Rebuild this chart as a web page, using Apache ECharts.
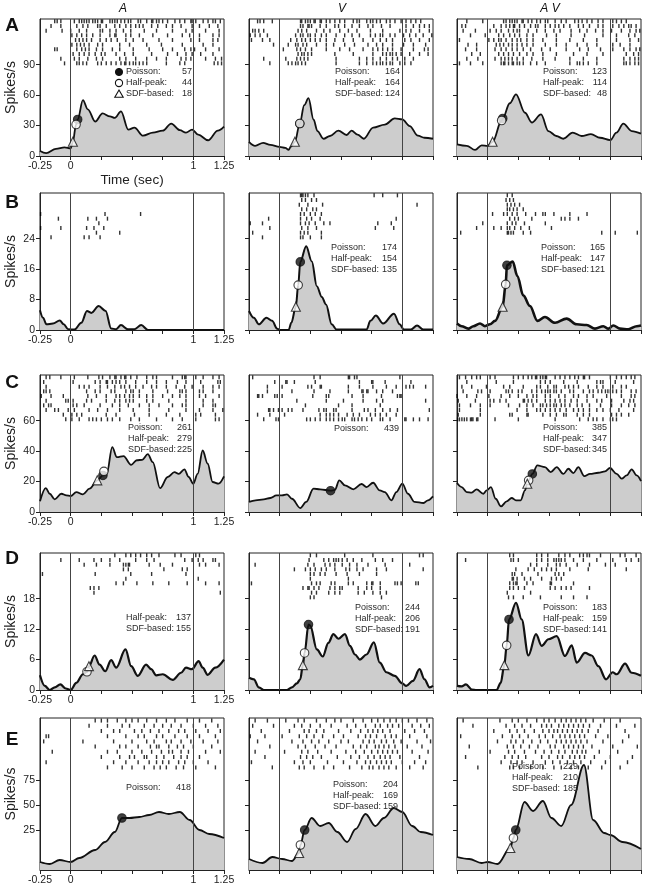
<!DOCTYPE html>
<html><head><meta charset="utf-8">
<script src="https://cdn.jsdelivr.net/npm/echarts@6/dist/echarts.min.js"></script>
<style>html,body{margin:0;padding:0;background:#fff}#c{width:647px;height:890px}</style>
</head><body><div id="c"></div>
<script>
// ---------- data ----------
const rowLetters = ['A', 'B', 'C', 'D', 'E'];
const colTitles = ['A', 'V', 'A V'];
const timeTicks = [-0.25, 0, 1, 1.25];
const yMin = [0, 0, 0, 0, -15];
const yMax = [135, 36, 90, 27, 137];
const yTickValues = [[0, 30, 60, 90], [0, 8, 16, 24], [0, 20, 40, 60], [0, 6, 12, 18], [25, 50, 75]];
const legendNames = ['Poisson:', 'Half-peak:', 'SDF-based:'];
// onset latencies (ms) [Poisson, Half-peak, SDF-based]
const onsetA = [[57, 44, 18], [164, 164, 124], [123, 114, 48]];
const onsetB = [[null, null, null], [174, 154, 135], [165, 147, 121]];
const onsetC = [[261, 279, 225], [439, null, null], [385, 347, 345]];
const onsetD = [[null, 137, 155], [244, 206, 191], [183, 159, 141]];
const onsetE = [[418, null, null], [204, 169, 159], [229, 210, 185]];
// onset markers [time (s), rate]
const poissonPts = [[[0.057, 36], [0.164, 32], [0.123, 37]], [null, [0.168, 17.9], [0.157, 17]], [[0.263, 24], [0.415, 14], [0.364, 25]], [null, [0.235, 12.9], [0.174, 13.9]], [[0.418, 37], [0.204, 25], [0.229, 25]]];
const halfPts = [[[0.044, 31], [0.164, 32], [0.114, 35]], [null, [0.151, 11.8], [0.147, 12]], [[0.271, 26.7], null, [0.334, 20.8]], [[0.133, 3.6], [0.203, 7.3], [0.155, 8.8]], [null, [0.169, 10], [0.21, 17]]];
const sdfPts = [[[0.018, 14], [0.124, 14], [0.04, 14]], [null, [0.132, 6.1], [0.122, 6.1]], [[0.217, 20.8], null, [0.323, 18.6]], [[0.149, 4.7], [0.189, 4.9], [0.136, 4.9]], [null, [0.159, 2], [0.185, 7]]];

// spike density functions [time (s), spikes/s]
const sdfA1 = [[-0.25,5],[-0.2,2.8],[-0.12,7],[-0.05,8.5],[0,7.5],[0.018,14],[0.044,31],[0.057,36],[0.1,55],[0.14,46],[0.2,34],[0.26,42],[0.32,39],[0.36,37.5],[0.41,44],[0.47,26],[0.52,28],[0.59,20],[0.67,23],[0.75,25],[0.82,32],[0.89,25.5],[0.94,23],[0.99,26],[1.04,21],[1.12,15.5],[1.2,25],[1.25,29]];
const sdfA2 = [[-0.25,14],[-0.2,10],[-0.135,13],[-0.076,11],[0,9],[0.046,8],[0.073,6],[0.09,9],[0.124,14],[0.164,32],[0.2,50],[0.235,57],[0.276,36],[0.308,24.6],[0.357,17],[0.41,19.7],[0.478,25],[0.546,20.7],[0.586,25],[0.635,21],[0.686,17],[0.762,28],[0.857,31],[0.938,37],[1.0,36],[1.06,29.5],[1.127,20],[1.18,18],[1.25,17]];
const sdfA3 = [[-0.25,11.5],[-0.17,10],[-0.103,6],[-0.049,10.5],[0,10],[0.04,14],[0.114,35],[0.123,37],[0.18,52],[0.231,60.7],[0.304,42.6],[0.36,33],[0.435,41],[0.495,24.6],[0.56,19.7],[0.617,17],[0.693,23],[0.766,19.7],[0.842,21.6],[0.916,18],[1.0,15.7],[1.05,23],[1.106,32],[1.174,24.6],[1.25,22]];
const sdfB1 = [[-0.25,5.2],[-0.225,3.2],[-0.198,1.5],[-0.144,1.7],[-0.089,2.5],[-0.057,1.5],[-0.02,0.2],[0.03,0.1],[0.087,1.9],[0.133,5],[0.168,4.5],[0.228,6.3],[0.285,5],[0.33,0.4],[0.37,0.2],[0.41,1.3],[0.466,0.2],[0.52,0.2],[0.575,1.3],[0.63,0],[1.25,0]];
const sdfB2 = [[-0.25,5],[-0.21,3.2],[-0.17,1.5],[-0.108,3.2],[-0.062,2.4],[-0.02,0.35],[0,0],[0.073,0],[0.095,1.9],[0.132,6.1],[0.151,11.8],[0.168,17.9],[0.216,22],[0.262,18],[0.303,11.5],[0.343,8.7],[0.378,6.7],[0.424,1.5],[0.465,0.1],[0.708,0.1],[0.74,2.4],[0.784,3.8],[0.843,1.7],[0.932,4.3],[0.978,1.5],[1.013,0.1],[1.07,0.1],[1.12,1.2],[1.17,0.1],[1.25,0.1]];
const sdfB3 = [[-0.25,1.7],[-0.212,1],[-0.158,0.35],[-0.117,1],[-0.0625,1.7],[-0.022,1],[0.019,1.5],[0.06,2.4],[0.122,6.1],[0.147,12],[0.157,17],[0.204,18],[0.242,14.2],[0.29,9.1],[0.345,6.3],[0.405,2.4],[0.467,3.4],[0.549,1.9],[0.644,3],[0.726,1.5],[0.807,1.3],[0.875,0.35],[0.943,1],[0.984,0.35],[1.024,1.2],[1.079,0.35],[1.147,0.2],[1.215,1],[1.25,1.2]];
const sdfC1 = [[-0.25,7],[-0.203,15.7],[-0.171,12],[-0.13,8.3],[-0.076,12],[-0.035,10.9],[0,10.5],[0.046,13.1],[0.1,11.6],[0.154,15.3],[0.217,20.8],[0.263,24],[0.295,25.5],[0.339,42.6],[0.377,36],[0.431,36.7],[0.493,31],[0.539,34],[0.583,34.3],[0.629,38],[0.669,32.8],[0.729,15.7],[0.791,23],[0.846,26.2],[0.881,25],[0.927,28],[0.962,23],[1.0,18.6],[1.035,25],[1.076,40.4],[1.117,31.7],[1.157,19.7],[1.206,18.6],[1.25,23.4]];
const sdfC2 = [[-0.25,6.6],[-0.197,7.7],[-0.13,8.3],[-0.076,9.2],[-0.027,10.9],[0.019,10.9],[0.06,11.6],[0.1,8.7],[0.168,2.6],[0.216,6.6],[0.276,15.3],[0.33,14.9],[0.415,14],[0.45,14.5],[0.486,20.8],[0.532,17.5],[0.6,14.9],[0.668,18.4],[0.708,16.4],[0.762,19.2],[0.816,14.2],[0.857,13.1],[0.911,7.7],[0.951,13.1],[1.0,18.6],[1.046,12],[1.1,6.6],[1.173,5.9],[1.208,7.7],[1.25,10.3]];
const sdfC3 = [[-0.25,19],[-0.212,16.4],[-0.171,13.1],[-0.13,12.7],[-0.09,14.9],[-0.035,12],[-0.008,14.2],[0.027,16.4],[0.065,8.7],[0.109,3.7],[0.155,7],[0.196,9.2],[0.231,7.7],[0.269,7.7],[0.304,14.2],[0.323,18.6],[0.334,20.8],[0.364,25],[0.405,30.6],[0.467,29.5],[0.514,26.2],[0.563,29.5],[0.617,25],[0.658,28.4],[0.698,25.6],[0.739,29.5],[0.788,23.6],[0.834,25],[0.902,25.8],[0.957,26.7],[0.997,28.9],[1.052,25],[1.092,21.9],[1.133,24],[1.174,28],[1.215,24],[1.25,20.3]];
const sdfD1 = [[-0.25,2.9],[-0.211,0.8],[-0.17,0],[-0.13,0.5],[-0.084,1.1],[-0.04,0.3],[0,0],[0.046,1.4],[0.1,3.1],[0.133,3.6],[0.149,4.7],[0.195,6.8],[0.236,5],[0.282,3.7],[0.33,5.9],[0.371,4.4],[0.447,8],[0.493,4.7],[0.547,2.8],[0.615,5],[0.656,4.1],[0.697,2.9],[0.751,3.1],[0.832,2],[0.9,3.4],[0.94,4.4],[0.989,4.1],[1.043,5.7],[1.076,4.4],[1.117,3],[1.179,4.4],[1.25,6]];
const sdfD2 = [[-0.25,2.4],[-0.21,2.1],[-0.17,0.5],[-0.13,0],[0.06,0],[0.1,0.5],[0.14,1.3],[0.168,2.1],[0.189,4.9],[0.203,7.3],[0.235,12.9],[0.249,12.7],[0.303,8],[0.351,6.6],[0.397,9.3],[0.438,11],[0.478,10.1],[0.532,11],[0.573,8.7],[0.614,7],[0.654,6],[0.708,7],[0.768,9.4],[0.816,5.4],[0.87,3.5],[0.938,2.8],[1.0,1.3],[1.032,0.8],[1.086,1.8],[1.14,4.1],[1.181,2.1],[1.222,0.5],[1.25,0.8]];
const sdfD3 = [[-0.25,0.8],[-0.212,0.7],[-0.177,1.1],[-0.13,0.1],[-0.09,0],[0.073,0],[0.106,1.4],[0.136,4.9],[0.155,8.8],[0.174,13.9],[0.231,17.2],[0.277,13.9],[0.332,6.8],[0.394,11],[0.44,8.7],[0.495,10],[0.563,10.6],[0.63,6.7],[0.685,8.8],[0.726,5.4],[0.794,7.3],[0.848,6.8],[0.902,4.7],[0.965,2.1],[1.019,3.5],[1.052,3.1],[1.12,5.2],[1.174,3.4],[1.25,2.8]];
const sdfE1 = [[-0.25,-7],[-0.17,-9],[-0.09,-5],[0,-7],[0.07,-3],[0.2,5],[0.28,13],[0.36,23],[0.418,37],[0.48,37],[0.56,38],[0.64,40],[0.72,43],[0.8,41],[0.89,43],[0.97,35],[1.05,25],[1.13,21],[1.25,17]];
const sdfE2 = [[-0.25,-4],[-0.14,-8],[-0.06,-2],[0.02,-4],[0.1,-6],[0.159,2],[0.169,10],[0.204,25],[0.26,37],[0.33,29],[0.4,32],[0.47,23],[0.55,13],[0.62,26],[0.7,41],[0.78,29],[0.85,37],[0.93,47],[1.0,43],[1.08,29],[1.15,23],[1.25,20]];
const sdfE3 = [[-0.25,-2],[-0.15,-4],[-0.05,-8],[0,-7],[0.08,-9],[0.185,7],[0.21,17],[0.229,25],[0.3,53],[0.37,44],[0.45,54],[0.52,37],[0.6,29],[0.68,50],[0.785,90],[0.86,35],[0.95,22],[1.0,20],[1.1,13],[1.25,6]];

// spike rasters: one array of spike times (s) per trial
const rasterA1 = [
 [-0.13,-0.11,-0.08,0.03,0.07,0.09,0.11,0.13,0.15,0.18,0.20,0.22,0.25,0.26,0.32,0.34,0.36,0.38,0.41,0.44,0.47,0.49,0.55,0.57,0.62,0.66,0.67,0.70,0.72,0.75,0.79,0.85,0.89,0.93,0.98,0.99,1.02,1.08,1.12,1.16,1.18,1.22],
 [-0.16,-0.08,0.05,0.10,0.14,0.22,0.24,0.29,0.36,0.40,0.45,0.49,0.53,0.56,0.59,0.66,0.71,0.78,0.83,0.90,0.99,1.05,1.13,1.20],
 [-0.20,-0.07,0.00,0.07,0.13,0.24,0.26,0.32,0.37,0.43,0.49,0.60,0.70,0.83,0.94,0.99,1.10,1.21],
 [0.01,0.05,0.09,0.13,0.18,0.24,0.32,0.36,0.37,0.45,0.49,0.56,0.67,0.79,0.91,0.97,1.05,1.16,1.21],
 [0.04,0.07,0.10,0.13,0.17,0.24,0.29,0.33,0.38,0.45,0.51,0.59,0.72,0.83,0.98,1.05,1.16,1.20],
 [0.01,0.05,0.08,0.11,0.15,0.22,0.26,0.40,0.48,0.62,0.74,0.91,1.08,1.16],
 [-0.13,-0.11,0.05,0.09,0.12,0.15,0.21,0.26,0.34,0.40,0.51,0.64,0.75,0.83,0.93,0.98,1.01,1.10,1.21],
 [0.02,0.07,0.11,0.15,0.20,0.25,0.28,0.37,0.44,0.51,0.66,0.79,0.87,0.94,0.99,1.06,1.16],
 [-0.08,0.03,0.07,0.14,0.21,0.26,0.40,0.45,0.53,0.62,0.70,0.78,0.90,0.94,0.98,1.10,1.18,1.23],
 [-0.05,0.05,0.07,0.10,0.13,0.22,0.25,0.29,0.33,0.37,0.41,0.44,0.45,0.48,0.51,0.53,0.56,0.59,0.62,0.78,0.89,0.93,1.17,1.20,1.23]
];
const rasterA2 = [
 [-0.18,-0.16,-0.13,-0.06,0.17,0.18,0.21,0.23,0.25,0.28,0.29,0.33,0.34,0.38,0.41,0.45,0.49,0.53,0.60,0.63,0.65,0.71,0.74,0.76,0.79,0.82,0.87,0.90,0.94,0.99,1.03,1.07,1.11,1.15],
 [0.17,0.19,0.23,0.24,0.26,0.33,0.38,0.45,0.48,0.53,0.59,0.65,0.72,0.76,0.83,0.90,1.03,1.09,1.14,1.18,1.22],
 [-0.22,-0.20,-0.17,-0.13,0.15,0.18,0.22,0.30,0.36,0.41,0.49,0.56,0.63,0.74,0.84,0.98,1.03,1.07,1.14,1.22],
 [-0.24,-0.20,-0.16,-0.10,0.13,0.17,0.19,0.23,0.25,0.29,0.34,0.38,0.46,0.53,0.59,0.65,0.74,0.78,0.82,0.84,0.90,0.94,1.01,1.06,1.11,1.17,1.24],
 [-0.23,-0.14,-0.08,0.09,0.14,0.18,0.21,0.25,0.29,0.33,0.38,0.45,0.52,0.60,0.68,0.76,0.82,0.87,0.92,1.02,1.07,1.14,1.22],
 [-0.05,0.07,0.13,0.15,0.19,0.22,0.30,0.38,0.44,0.53,0.61,0.72,0.79,0.84,0.92,1.01,1.09,1.19],
 [0.03,0.14,0.17,0.21,0.26,0.38,0.49,0.57,0.68,0.76,0.80,0.84,0.88,0.92,0.99,1.09,1.18,1.21],
 [0.15,0.18,0.20,0.23,0.26,0.45,0.60,0.76,0.84,0.87,0.90,0.92,0.95,0.99,1.06,1.14,1.21],
 [-0.13,0.05,0.14,0.17,0.20,0.23,0.46,0.65,0.71,0.76,0.82,0.87,0.92,0.96,1.02,1.09],
 [-0.08,0.07,0.10,0.13,0.15,0.18,0.21,0.46,0.65,0.71,0.76,0.79,0.82,0.84,0.87,0.90,0.92,0.98,1.02,1.07]
];
const rasterA3 = [
 [-0.17,-0.04,0.13,0.15,0.18,0.20,0.22,0.24,0.28,0.29,0.33,0.36,0.40,0.43,0.47,0.49,0.55,0.60,0.64,0.71,0.74,0.77,0.81,0.85,0.90,0.94,1.02,1.05,1.09,1.13],
 [-0.21,-0.18,0.05,0.11,0.15,0.18,0.21,0.22,0.26,0.30,0.35,0.39,0.41,0.47,0.51,0.55,0.58,0.62,0.67,0.74,0.78,0.83,0.90,0.94,1.02,1.07,1.11,1.15,1.17,1.21],
 [-0.20,-0.10,0.02,0.07,0.11,0.17,0.21,0.24,0.26,0.33,0.40,0.47,0.54,0.59,0.68,0.75,0.81,0.88,0.94,1.01,1.09,1.16,1.21,1.24],
 [-0.14,-0.02,0.09,0.13,0.18,0.22,0.26,0.32,0.37,0.48,0.56,0.68,0.79,0.94,1.05,1.15,1.20],
 [-0.23,0.01,0.05,0.09,0.11,0.15,0.20,0.24,0.27,0.32,0.37,0.45,0.56,0.67,0.78,0.89,1.05,1.16,1.23],
 [-0.16,-0.09,0.07,0.10,0.13,0.17,0.20,0.24,0.28,0.32,0.37,0.47,0.56,0.64,0.73,0.81,0.89,1.02,1.08,1.16],
 [-0.18,-0.09,0.06,0.11,0.15,0.20,0.24,0.29,0.35,0.44,0.51,0.64,0.75,0.82,0.92,1.02,1.11,1.16,1.21,1.24],
 [-0.13,-0.06,0.09,0.13,0.17,0.21,0.26,0.32,0.37,0.45,0.56,0.70,0.81,0.94,1.13,1.19,1.23],
 [-0.17,-0.08,0.06,0.11,0.14,0.17,0.20,0.24,0.29,0.36,0.45,0.55,0.67,0.78,0.89,1.11,1.16,1.20,1.23],
 [-0.23,-0.14,-0.04,0.11,0.13,0.14,0.17,0.20,0.21,0.24,0.26,0.29,0.35,0.40,0.47,0.67,0.73,0.75,0.78,0.82,0.89,1.11,1.13,1.16,1.20,1.23]
];
const rasterB1 = [[], [], [], [], [-0.245,0.28,0.57], [-0.10,0.14,0.21,0.30], [0.23], [-0.245,-0.08,0.13,0.19,0.27], [0.21,0.40], [-0.16,0.11,0.15,0.24]];
const rasterB2 = [
 [0.17,0.18,0.19,0.21,0.23,0.28,0.77,0.84,0.96],
 [0.18,0.21,0.26,0.30],
 [0.16,0.23,0.35,1.12],
 [0.18,0.22,0.27,0.30],
 [0.17,0.20,0.25,0.29,0.34],
 [-0.09,0.17,0.22,0.26,0.33,0.95],
 [-0.24,-0.14,0.17,0.21,0.24,0.29,0.36,0.41,0.80,0.91],
 [-0.08,0.18,0.23,0.30,0.78,0.93],
 [-0.22,0.17,0.20,0.23,0.34],
 [-0.14,0.17,0.19,0.25,0.34]
];
const rasterB3 = [
 [0.16,0.20],
 [0.15,0.18,0.21],
 [0.16,0.19,0.22,0.26],
 [0.16,0.18,0.21,0.24,0.29],
 [0.04,0.13,0.16,0.20,0.24,0.31,0.39,0.45,0.47,0.54,0.67,0.81],
 [0.18,0.22,0.25,0.36,0.60,0.63,0.67,0.74],
 [-0.04,0.16,0.20,0.23,0.30,0.47],
 [-0.09,0.05,0.11,0.16,0.18,0.22,0.27,0.34,0.52],
 [-0.22,0.16,0.17,0.19,0.21,0.29,0.35,0.93,1.04,1.22],
 []
];
const rasterC1 = [
 [-0.20,-0.17,-0.08,0.03,0.14,0.23,0.26,0.32,0.36,0.37,0.41,0.44,0.45,0.49,0.54,0.62,0.67,0.70,0.83,0.91,0.93,0.94,1.02,1.08,1.16,1.21],
 [-0.22,0.02,0.20,0.24,0.29,0.30,0.34,0.37,0.40,0.45,0.53,0.62,0.70,0.78,0.87,0.94,1.06,1.20,1.22],
 [-0.20,0.07,0.11,0.15,0.24,0.30,0.36,0.41,0.44,0.48,0.53,0.59,0.66,0.70,0.78,0.86,0.93,0.99,1.08,1.16,1.21],
 [-0.22,-0.20,-0.17,0.13,0.20,0.24,0.33,0.36,0.45,0.49,0.51,0.56,0.67,0.79,0.89,0.91,0.94,1.05,1.08,1.16],
 [-0.24,-0.16,-0.06,0.14,0.21,0.29,0.37,0.40,0.44,0.48,0.51,0.56,0.62,0.67,0.75,0.83,0.89,0.94,1.05,1.10,1.21],
 [-0.20,-0.04,-0.02,0.02,0.13,0.17,0.29,0.36,0.40,0.45,0.48,0.51,0.62,0.67,0.80,0.94,1.08,1.16],
 [-0.22,-0.18,-0.16,0.02,0.05,0.11,0.24,0.34,0.40,0.47,0.56,0.64,0.72,0.83,0.91,0.94,1.08,1.16,1.18],
 [-0.20,-0.13,-0.10,-0.02,0.03,0.15,0.22,0.30,0.40,0.51,0.64,0.80,0.94,1.05,1.16,1.24],
 [-0.06,0.01,0.05,0.09,0.29,0.37,0.52,0.64,0.78,0.89,1.02,1.06,1.18],
 [-0.04,0.01,0.07,0.15,0.18,0.21,0.25,0.30,0.34,0.40,0.49,0.56,0.70,0.83,0.91,1.02,1.18,1.21]
];
const rasterC2 = [
 [-0.22,0.28,0.33,0.56,0.57,0.61,0.63,0.98],
 [-0.04,0.05,0.06,0.12,0.29,0.65,0.75,0.76,0.86,1.07],
 [-0.10,0.02,0.23,0.26,0.33,0.34,0.56,0.65,0.76,0.87,0.95,1.03,1.06,1.09,1.19],
 [-0.10,0.10,0.28,0.41,0.56,0.67,0.68,0.71,0.72,0.79,0.84,0.92],
 [-0.18,-0.17,-0.14,-0.04,-0.02,0.02,0.27,0.38,0.40,0.59,0.68,0.83,0.96,0.98,0.99],
 [0.14,0.38,0.52,0.68,0.79,0.84,1.19],
 [0.21,0.48,0.59,0.82],
 [-0.09,-0.08,-0.05,-0.01,0.02,0.07,0.10,0.19,0.32,0.36,0.38,0.44,0.46,0.59,0.69,0.72,0.78,0.84,0.90,0.96,1.22],
 [-0.18,-0.08,0.04,0.33,0.38,0.41,0.44,0.48,0.55,0.60,0.65,0.74,0.78,0.82,0.87,0.95],
 [-0.13,-0.03,-0.01,0.22,0.25,0.29,0.33,0.38,0.41,0.44,0.48,0.51,0.53,0.59,0.61,0.64,0.67,0.71,0.75,0.82,0.84,0.90,1.02,1.03,1.09,1.14,1.21]
];
const rasterC3 = [
 [-0.23,-0.18,-0.13,-0.09,-0.06,0.02,0.06,0.21,0.25,0.29,0.33,0.36,0.39,0.40,0.43,0.45,0.47,0.48,0.55,0.59,0.63,0.67,0.71,0.74,0.78,0.79,0.83,1.00,1.05,1.09,1.13,1.17,1.20],
 [-0.17,0.07,0.21,0.43,0.47,0.51,0.62,0.73,0.89,0.92,0.94,1.04,1.19],
 [-0.21,-0.13,-0.01,0.13,0.18,0.29,0.40,0.43,0.49,0.54,0.56,0.63,0.66,0.70,0.74,0.82,0.89,0.94,1.02,1.09,1.13],
 [-0.20,-0.08,-0.05,0.02,0.15,0.17,0.20,0.25,0.28,0.36,0.40,0.44,0.47,0.49,0.51,0.54,0.56,0.60,0.67,0.70,0.78,0.83,0.86,0.90,0.93,0.96,0.98,1.00,1.02,1.05,1.09,1.17,1.21],
 [-0.25,-0.17,-0.09,0.01,0.11,0.18,0.25,0.32,0.37,0.40,0.47,0.51,0.58,0.63,0.70,0.74,0.81,0.86,0.97,1.09,1.17,1.20],
 [-0.24,-0.10,0.02,0.05,0.10,0.15,0.29,0.30,0.33,0.36,0.40,0.47,0.51,0.55,0.59,0.63,0.68,0.73,0.81,0.89,0.93,1.01,1.11,1.16,1.19],
 [-0.23,-0.14,-0.06,0.02,0.17,0.26,0.32,0.37,0.43,0.45,0.48,0.51,0.54,0.56,0.60,0.63,0.67,0.73,0.77,0.83,0.92,1.01,1.09,1.15,1.20],
 [-0.23,-0.06,0.24,0.32,0.40,0.43,0.47,0.51,0.55,0.59,0.64,0.70,0.74,0.78,0.83,0.89,0.94,1.00,1.07,1.19],
 [-0.24,-0.06,0.18,0.20,0.32,0.33,0.45,0.51,0.56,0.62,0.64,0.73,0.78,0.83,1.01,1.05,1.09,1.15],
 [-0.245,-0.23,-0.21,-0.19,-0.17,-0.14,-0.13,-0.12,-0.09,-0.08,0.06,0.25,0.55,0.75,0.82,0.86,0.89,0.94,1.00,1.02,1.05]
];
const rasterD1 = [
 [0.36,0.45,0.49,0.53,0.57,0.62,0.66,0.72,0.85,0.90,1.02,1.05],
 [-0.08,0.07,0.19,0.25,0.32,0.40,0.53,0.62,0.68,0.93,0.99,1.04,1.08,1.16,1.18],
 [0.11,0.21,0.32,0.43,0.45,0.47,0.48,0.64,0.73,0.83,1.05,1.10,1.21],
 [0.43,0.47,0.76,0.91,0.95],
 [-0.23,0.20,0.49,0.66,0.94],
 [0.45,1.04],
 [0.37,0.43,0.54,0.67,0.80,0.95,1.10,1.21],
 [0.16,0.19,0.23],
 [0.19,1.22],
 []
];
const rasterD2 = [
 [0.25,0.30,0.53,0.76,1.14,1.17],
 [0.24,0.36,0.40,0.44,0.46,0.48,0.51,0.55,0.60,0.67,0.78,0.84,0.92],
 [-0.20,0.23,0.28,0.37,0.41,0.45,0.51,0.57,0.63,0.72,0.86,1.06],
 [0.12,0.21,0.25,0.29,0.34,0.38,0.45,0.54,0.57,0.63,0.68,0.79,0.87,1.17],
 [0.25,0.28,0.33,0.37,0.46,0.55,0.65,0.79],
 [0.25,0.56],
 [-0.23,0.26,0.30,0.33,0.42,0.45,0.56,0.60,0.71,0.75,0.76,0.82,0.94,0.96,0.99,1.11,1.13],
 [0.19,0.23,0.24,0.28,0.32,0.41,0.45,0.49,0.51,0.64,0.71,0.75,0.82],
 [0.26,0.30,0.40,0.45,0.49,0.64,0.69,0.76,0.82,0.87],
 [0.25,0.28,0.83]
];
const rasterD3 = [
 [0.18,0.21,0.40,0.44,0.49,0.58,0.63,0.67,0.75,0.78,0.81,0.83,0.92,1.08,1.12,1.21],
 [-0.18,0.19,0.21,0.25,0.40,0.44,0.49,0.54,0.56,0.58,0.60,0.63,0.70,0.78,0.89,1.02,1.13,1.17,1.23],
 [0.35,0.40,0.49,0.56,0.59,0.64,0.73,0.83,0.96,1.04],
 [0.23,0.33,0.38,0.44,0.48,0.52,0.56,0.67,0.82,1.13],
 [0.20,0.22,0.28,0.41,0.55,0.58,0.62],
 [0.20,0.21,0.24,0.30,0.35,0.44,0.52,0.56,0.60],
 [0.18,0.21,0.23,0.24,0.32,0.37,0.51,0.52,0.70],
 [0.18,0.21,0.25,0.30,0.51,0.55,0.60,0.64,0.68,0.83],
 [0.16,0.35],
 [0.17,0.21,0.29,0.43,0.60,0.70,0.81]
];
const rasterE1 = [
 [0.20,0.25,0.30,0.38,0.45,0.50,0.55,0.62,0.70,0.78,0.85,0.95,1.05,1.15],
 [0.15,0.30,0.42,0.48,0.60,0.68,0.75,0.82,0.90,1.00,1.10,1.20],
 [0.25,0.35,0.40,0.52,0.58,0.65,0.72,0.80,0.88,0.93,1.02,1.12,1.22],
 [-0.20,-0.18,0.30,0.45,0.55,0.60,0.70,0.75,0.85,0.95,1.05,1.18],
 [-0.22,0.10,0.35,0.50,0.62,0.68,0.78,0.82,0.90,0.98,1.08,1.20],
 [0.20,0.40,0.45,0.55,0.65,0.70,0.72,0.80,0.87,0.92,1.00,1.15],
 [-0.15,0.30,0.38,0.50,0.58,0.66,0.74,0.80,0.83,0.90,0.96,1.10,1.22],
 [0.25,0.40,0.48,0.52,0.60,0.62,0.70,0.76,0.84,0.90,0.95,1.05],
 [-0.20,0.35,0.45,0.55,0.64,0.70,0.75,0.80,0.88,0.93,1.00,1.12],
 [0.30,0.42,0.50,0.60,0.68,0.73,0.78,0.86,0.92,1.02,1.18]
];
const rasterE2 = [
 [-0.20,-0.10,0.05,0.15,0.20,0.30,0.38,0.45,0.50,0.60,0.68,0.75,0.80,0.85,0.90,0.95,1.00,1.05,1.12,1.20],
 [-0.22,-0.05,0.12,0.18,0.25,0.33,0.42,0.55,0.62,0.70,0.78,0.82,0.88,0.92,0.97,1.08,1.15,1.22],
 [-0.15,0.08,0.20,0.24,0.30,0.36,0.48,0.58,0.66,0.72,0.76,0.80,0.84,0.90,1.02,1.10,1.18],
 [-0.24,-0.12,0.02,0.16,0.22,0.28,0.35,0.44,0.52,0.64,0.70,0.74,0.79,0.86,0.91,0.95,1.06,1.20],
 [-0.18,0.10,0.19,0.26,0.32,0.40,0.50,0.56,0.68,0.73,0.77,0.83,0.87,0.93,0.99,1.12,1.23],
 [-0.08,0.15,0.21,0.29,0.37,0.46,0.60,0.66,0.71,0.78,0.81,0.85,0.89,0.94,1.04,1.16],
 [-0.20,0.04,0.18,0.23,0.31,0.42,0.54,0.62,0.69,0.75,0.80,0.84,0.88,0.92,0.96,1.08,1.21],
 [-0.12,0.17,0.22,0.27,0.34,0.47,0.58,0.65,0.72,0.77,0.82,0.86,0.90,0.98,1.14],
 [-0.23,0.12,0.19,0.25,0.39,0.52,0.63,0.70,0.74,0.79,0.83,0.87,0.91,1.00,1.10,1.19],
 [-0.06,0.16,0.20,0.28,0.36,0.44,0.57,0.67,0.73,0.76,0.81,0.85,0.89,0.95,1.06,1.17]
];
const rasterE3 = [
 [-0.20,0.10,0.20,0.25,0.32,0.40,0.46,0.50,0.55,0.60,0.64,0.68,0.72,0.76,0.80,0.86,0.95,1.08],
 [-0.12,0.15,0.22,0.28,0.35,0.44,0.48,0.52,0.58,0.62,0.66,0.70,0.74,0.78,0.83,0.92,1.05,1.20],
 [0.05,0.18,0.24,0.30,0.38,0.45,0.50,0.54,0.57,0.61,0.65,0.69,0.73,0.77,0.82,0.90,1.12],
 [-0.22,0.12,0.20,0.26,0.33,0.42,0.47,0.53,0.59,0.63,0.67,0.71,0.75,0.79,0.88,0.98,1.15],
 [0.08,0.19,0.23,0.29,0.36,0.43,0.49,0.56,0.60,0.64,0.68,0.72,0.76,0.81,0.94,1.10],
 [-0.15,0.16,0.21,0.27,0.34,0.41,0.51,0.55,0.62,0.66,0.70,0.74,0.78,0.85,1.02,1.22],
 [0.02,0.17,0.22,0.30,0.39,0.46,0.52,0.58,0.63,0.69,0.73,0.77,0.80,0.91,1.06],
 [-0.18,0.14,0.20,0.25,0.31,0.44,0.50,0.57,0.61,0.67,0.71,0.75,0.79,0.87,1.00,1.18],
 [0.11,0.19,0.24,0.28,0.37,0.47,0.53,0.59,0.65,0.70,0.76,0.84,0.96,1.14],
 [-0.08,0.18,0.21,0.26,0.35,0.45,0.54,0.60,0.68,0.74,0.82,0.93,1.08]
];

const sdfCurves = [[sdfA1, sdfA2, sdfA3], [sdfB1, sdfB2, sdfB3], [sdfC1, sdfC2, sdfC3], [sdfD1, sdfD2, sdfD3], [sdfE1, sdfE2, sdfE3]];
const rasters = [[rasterA1, rasterA2, rasterA3], [rasterB1, rasterB2, rasterB3], [rasterC1, rasterC2, rasterC3], [rasterD1, rasterD2, rasterD3], [rasterE1, rasterE2, rasterE3]];
const onsets = [onsetA, onsetB, onsetC, onsetD, onsetE];

// ---------- layout ----------
const FONT = '"Liberation Sans", Arial, Helvetica, sans-serif';
const colLeft = [40, 249, 457], plotW = 184;
const rowTop = [19, 193, 375, 553, 718];
const plotH = [137, 137, 137, 137, 152];
const rasterH = [46.7, 46.7, 46.7, 46.7, 52];
const rowLetterY = [26, 203, 383, 559, 740];
const colTitleX = [123, 342, 550];
const lineW = [[1.8, 1.8, 1.8], [2, 2, 2.6], [1.8, 1.8, 1.8], [2.2, 2.2, 2.2], [1.8, 1.8, 1.8]];
const legendPos = [
  [[126, 192, 72], [335, 400, 72], [543, 607, 72]],
  [null, [331, 397, 248], [541, 605, 248]],
  [[128, 192, 428], [334, 399, 429], [543, 607, 428]],
  [[126, 191, 607], [355, 420, 608], [543, 607, 608]],
  [[126, 191, 788], [333, 398, 785], [512, 578, 767]]
];
const LEG_STEP = 11;

const chart = echarts.init(document.getElementById('c'), null, { renderer: 'canvas' });
const grids = [], xAxes = [], yAxes = [], series = [], graphics = [];
const AX = '#222';

for (let r = 0; r < 5; r++) {
  for (let c = 0; c < 3; c++) {
    const k = r * 3 + c;
    const gi = 2 * k, ri = 2 * k + 1;
    grids.push({ left: colLeft[c], top: rowTop[r], width: plotW, height: plotH[r], show: true, borderColor: AX, borderWidth: 1, backgroundColor: 'rgba(0,0,0,0)' });
    grids.push({ left: colLeft[c], top: rowTop[r], width: plotW, height: rasterH[r], show: false });
    xAxes.push({
      gridIndex: gi, type: 'value', min: -0.25, max: 1.25, interval: 0.25,
      axisLine: { show: true, onZero: false, lineStyle: { color: AX, width: 1 } },
      axisTick: { show: true, inside: false, length: 4, lineStyle: { color: AX } },
      splitLine: { show: false },
      axisLabel: { show: c === 0, customValues: timeTicks, formatter: v => String(v), fontSize: 10.5, color: AX, fontFamily: FONT, margin: 5 },
      name: (r === 0 && c === 0) ? 'Time (sec)' : '', nameLocation: 'middle', nameGap: 17,
      nameTextStyle: { fontSize: 13.5, color: AX, fontFamily: FONT }
    });
    xAxes.push({ gridIndex: ri, type: 'value', min: -0.25, max: 1.25, show: false });
    yAxes.push({
      gridIndex: gi, type: 'value', min: yMin[r], max: yMax[r],
      axisLine: { show: true, onZero: false, lineStyle: { color: AX, width: 1 } },
      axisTick: { show: true, inside: false, length: 4, customValues: yTickValues[r], lineStyle: { color: AX } },
      splitLine: { show: false },
      axisLabel: { show: c === 0, customValues: yTickValues[r], fontSize: 10.5, color: AX, fontFamily: FONT, margin: 5 },
      name: c === 0 ? 'Spikes/s' : '', nameLocation: 'middle', nameGap: 22, nameRotate: 90,
      nameTextStyle: { fontSize: 14, color: AX, fontFamily: FONT }
    });
    yAxes.push({ gridIndex: ri, type: 'value', min: 0.5, max: 10.5, inverse: true, show: false });

    series.push({
      type: 'line', xAxisIndex: gi, yAxisIndex: gi, data: sdfCurves[r][c],
      smooth: 0.35, smoothMonotone: 'x', showSymbol: false, symbol: 'none', silent: true,
      lineStyle: { color: '#111', width: lineW[r][c] },
      areaStyle: { color: '#cdcdcd', opacity: 1, origin: 'start' },
      markLine: { symbol: 'none', silent: true, label: { show: false }, lineStyle: { color: '#444', width: 1, type: 'solid' }, data: [{ xAxis: 0 }, { xAxis: 1 }], animation: false },
      z: 2
    });
    const spikes = [];
    rasters[r][c].forEach((trial, i) => trial.forEach(t => spikes.push([t, i + 1])));
    series.push({
      type: 'scatter', xAxisIndex: ri, yAxisIndex: ri, data: spikes, symbol: 'rect', symbolSize: [1.4, 4],
      itemStyle: { color: '#000' }, silent: true, z: 3
    });
    const mk = [
      [poissonPts[r][c], 'circle', '#111'],
      [halfPts[r][c], 'circle', '#fff'],
      [sdfPts[r][c], 'triangle', '#fff']
    ];
    mk.forEach(([p, sym, fill]) => {
      if (!p) return;
      series.push({
        type: 'scatter', xAxisIndex: gi, yAxisIndex: gi, data: [p], symbol: sym, symbolSize: sym === 'triangle' ? 9 : 8.5,
        itemStyle: { color: fill, borderColor: '#111', borderWidth: 1.1 }, silent: true, z: 5
      });
    });

    const lp = legendPos[r][c];
    if (lp) {
      onsets[r][c].forEach((val, j) => {
        if (val === null) return;
        const y = lp[2] + j * LEG_STEP;
        graphics.push({ type: 'text', x: lp[0], y, style: { text: legendNames[j], font: '9px ' + FONT, fill: '#2a2a2a', align: 'left', verticalAlign: 'middle', textAlign: 'left', textVerticalAlign: 'middle' }, z: 10 });
        graphics.push({ type: 'text', x: lp[1], y, style: { text: String(val), font: '9px ' + FONT, fill: '#2a2a2a', align: 'right', verticalAlign: 'middle', textAlign: 'right', textVerticalAlign: 'middle' }, z: 10 });
        if (r === 0 && c === 0) {
          const sx = lp[0] - 7;
          if (j === 0) graphics.push({ type: 'circle', shape: { cx: sx, cy: y, r: 3.6 }, style: { fill: '#111', stroke: '#111' }, z: 10 });
          if (j === 1) graphics.push({ type: 'circle', shape: { cx: sx, cy: y, r: 3.6 }, style: { fill: '#fff', stroke: '#111', lineWidth: 1.1 }, z: 10 });
          if (j === 2) graphics.push({ type: 'polygon', shape: { points: [[sx, y - 4], [sx + 4.2, y + 3.2], [sx - 4.2, y + 3.2]] }, style: { fill: '#fff', stroke: '#111', lineWidth: 1.1 }, z: 10 });
        }
      });
    }
  }
  graphics.push({ type: 'text', x: 12, y: rowLetterY[r], style: { text: rowLetters[r], font: 'bold 19px ' + FONT, fill: '#111', align: 'center', verticalAlign: 'middle', textAlign: 'center', textVerticalAlign: 'middle' }, z: 10 });
}
colTitles.forEach((t, c) => {
  graphics.push({ type: 'text', x: colTitleX[c], y: 9, style: { text: t, font: 'italic 12px ' + FONT, fill: '#111', align: 'center', verticalAlign: 'middle', textAlign: 'center', textVerticalAlign: 'middle' }, z: 10 });
});

chart.setOption({
  animation: false,
  backgroundColor: '#fff',
  grid: grids, xAxis: xAxes, yAxis: yAxes, series, graphic: graphics
});
</script></body></html>
